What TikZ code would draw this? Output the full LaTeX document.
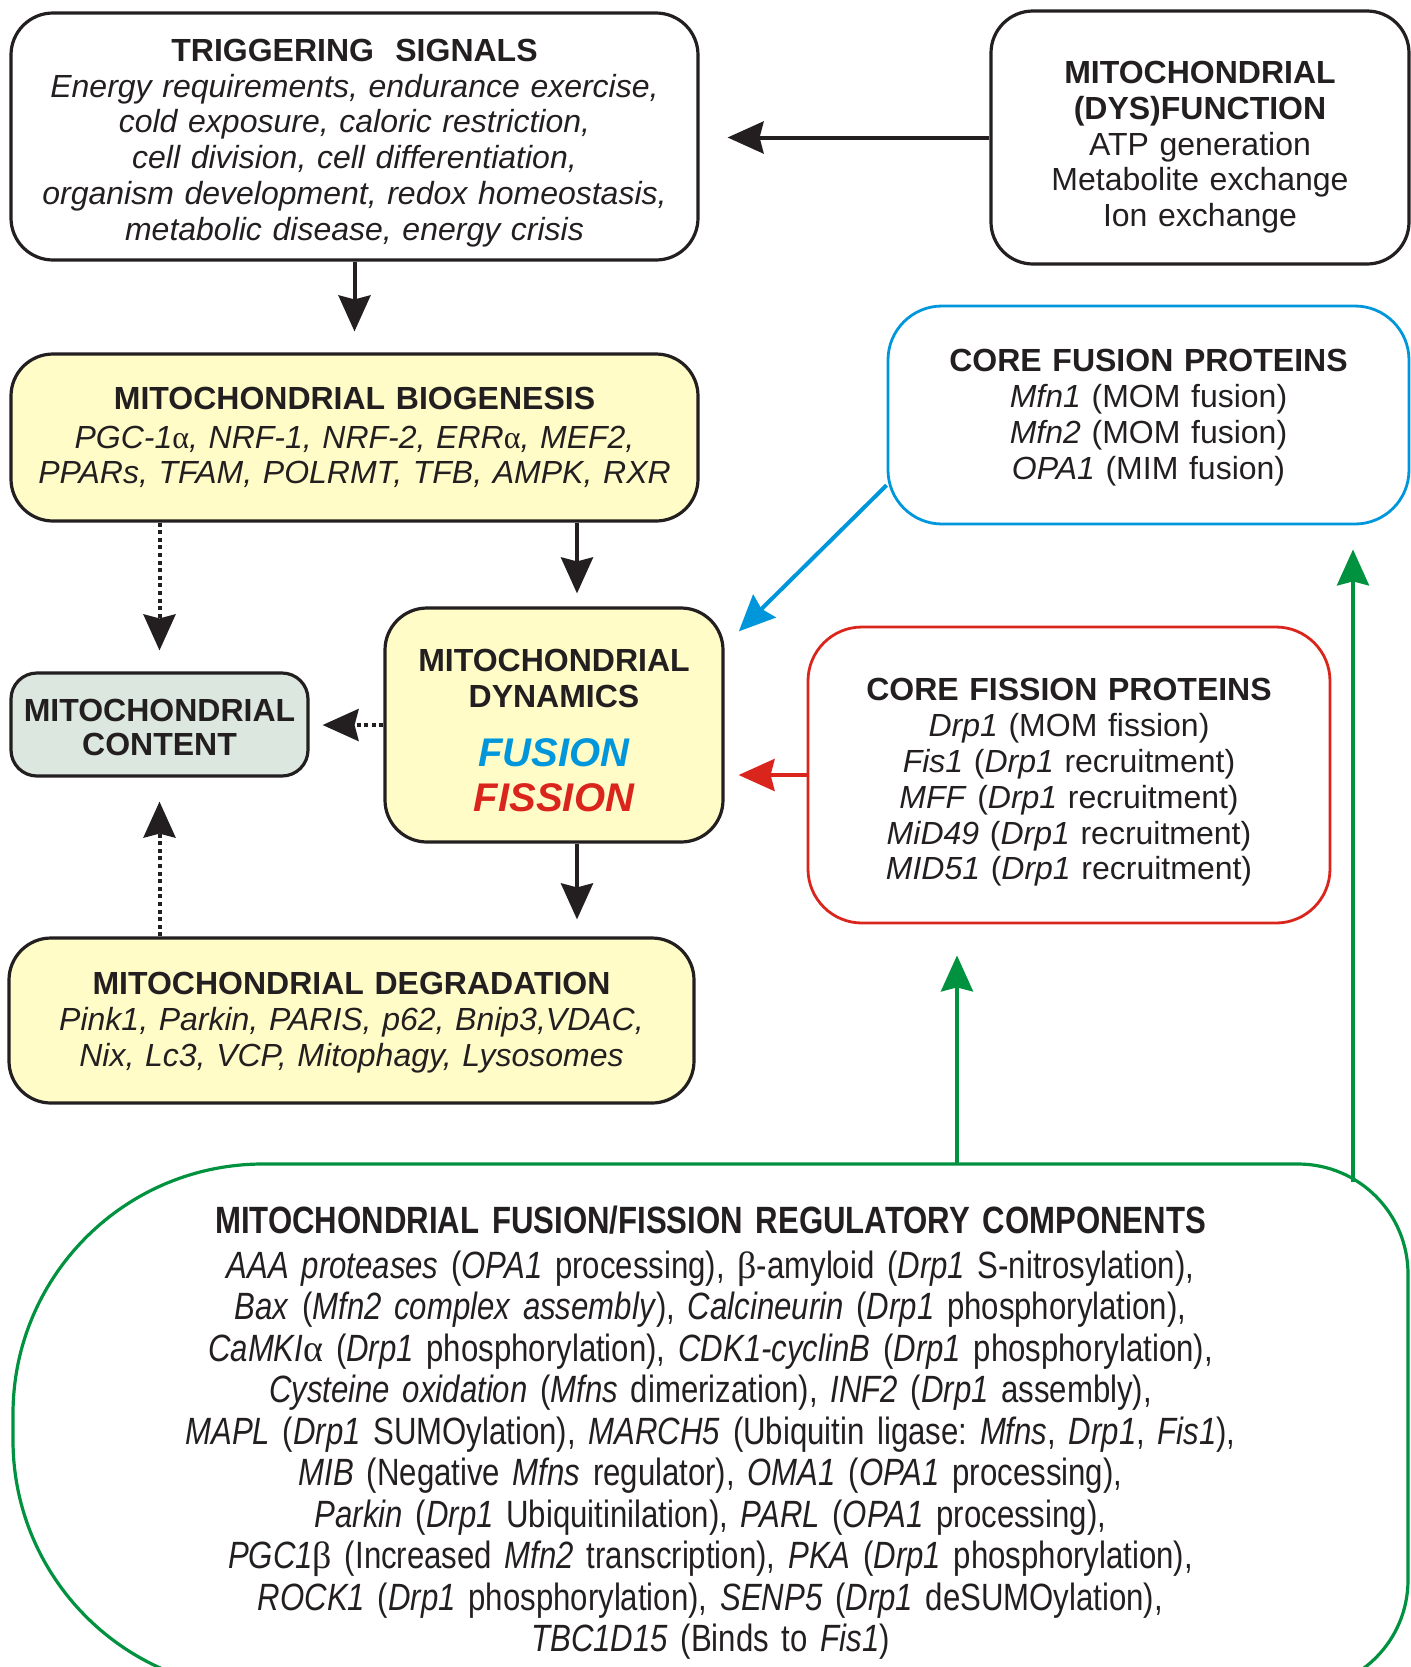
\documentclass[tikz,border=0pt]{standalone}
\usepackage{fontspec}
\setmainfont{Liberation Sans}
\newfontfamily\grkfont{Liberation Serif}
\newfontfamily\regfont[FakeStretch=0.82]{Liberation Sans}
\usetikzlibrary{arrows.meta}
\frenchspacing
\definecolor{boxyellow}{RGB}{255,252,200}
\definecolor{boxgrey}{RGB}{220,232,223}
\definecolor{fusblue}{RGB}{0,150,219}
\definecolor{fisred}{RGB}{218,37,29}
\definecolor{reggreen}{RGB}{0,146,63}
\definecolor{inkblack}{RGB}{35,31,32}
\newcommand{\gr}[1]{{\grkfont\upshape #1}}
\newcommand{\toprule}[1]{\rule{0pt}{#1}}

\begin{document}
\begin{tikzpicture}[x=0.5pt, y=-0.5pt,
  every node/.style = {align=center, text=inkblack,
    font=\fontsize{16}{17.9}\selectfont},
  blackbox/.style = {shape=rectangle, rounded corners=21pt,
    draw=inkblack, line width=1.6pt},
  yellowbox/.style = {blackbox, fill=boxyellow},
  fusbox/.style = {shape=rectangle, rounded corners=27pt,
    draw=fusblue, line width=1.4pt},
  fisbox/.style = {fusbox, draw=fisred},
  arr/.style = {line width=2pt, color=inkblack,
    -{Stealth[length=18pt,width=16pt,inset=2pt]}},
  dotarr/.style = {arr, dash pattern=on 2pt off 1.8pt},
  fusarr/.style = {arr, color=fusblue},
  fisarr/.style = {arr, color=fisred},
  regarr/.style = {arr, color=reggreen}]
  \useasboundingbox (0,0) rectangle (1411,1667);

  \node[blackbox, text width=330pt, minimum width=343.5pt, minimum height=123.5pt] (trig) at (354.5,136.5)
    {\toprule{17.7pt}{\bfseries TRIGGERING\ \ SIGNALS}\\\itshape Energy requirements, endurance exercise,\\
     cold exposure, caloric restriction,\\cell division, cell differentiation,\\
     organism development, redox homeostasis,\\metabolic disease, energy crisis};
  \node[blackbox, text width=200pt, minimum width=209pt, minimum height=126.5pt] (dys) at (1200,137.5)
    {\toprule{20.9pt}{\bfseries MITOCHONDRIAL\\(DYS)FUNCTION}\\ATP generation\\Metabolite exchange\\Ion exchange};
  \node[yellowbox, text width=330pt, minimum width=343.5pt, minimum height=83.5pt] (bio) at (354.5,437.5)
    {{\bfseries MITOCHONDRIAL BIOGENESIS}\\[1.5pt]\itshape PGC-1\gr{α}, NRF-1, NRF-2, ERR\gr{α}, MEF2,\\
     PPARs, TFAM, POLRMT, TFB, AMPK, RXR};
  \node[fusbox, text width=250pt, minimum width=260.5pt, minimum height=109pt] (fus) at (1148.5,415)
    {\toprule{14pt}{\bfseries CORE FUSION PROTEINS}\\\textit{Mfn1} (MOM fusion)\\\textit{Mfn2} (MOM fusion)\\
     \textit{OPA1} (MIM fusion)};
  \node[yellowbox, text width=160pt, minimum width=169pt, minimum height=117pt] (dyn) at (554,725)
    {\toprule{16.6pt}{\bfseries MITOCHONDRIAL\\DYNAMICS}\\[7.3pt]{\fontsize{20}{22}\selectfont\bfseries\itshape
     \textcolor{fusblue}{FUSION}\\[4.6pt]\textcolor{fisred}{FISSION}}};
  \node[blackbox, fill=boxgrey, rounded corners=13pt, text width=140pt, minimum width=148.5pt,
    minimum height=51.5pt, font=\fontsize{16}{17}\selectfont\bfseries] (cont) at (159.5,724.5)
    {\toprule{14.5pt}MITOCHONDRIAL\\CONTENT};
  \node[fisbox, text width=250pt, minimum width=261pt, minimum height=148pt] (fis) at (1069,775)
    {\toprule{18.7pt}{\bfseries CORE FISSION PROTEINS}\\\textit{Drp1} (MOM fission)\\\textit{Fis1} (\textit{Drp1} recruitment)\\
     \textit{MFF} (\textit{Drp1} recruitment)\\\textit{MiD49} (\textit{Drp1} recruitment)\\
     \textit{MID51} (\textit{Drp1} recruitment)};
  \node[yellowbox, text width=330pt, minimum width=342.5pt, minimum height=82.5pt] (deg) at (351.5,1020.5)
    {\toprule{13.3pt}{\bfseries MITOCHONDRIAL DEGRADATION}\\\itshape Pink1, Parkin, PARIS, p62, Bnip3,VDAC,\\
     Nix, Lc3, VCP, Mitophagy, Lysosomes};
  \node[text width=680pt, font=\regfont\fontsize{19}{20.75}\selectfont] (reg) at (710.5,1433)
    {{\bfseries MITOCHONDRIAL FUSION/FISSION REGULATORY COMPONENTS}\\[1.6pt]
     \textit{AAA proteases} (\textit{OPA1} processing), \gr{β}-amyloid (\textit{Drp1} S-nitrosylation),\\
     \textit{Bax} (\textit{Mfn2 complex assembly}), \textit{Calcineurin} (\textit{Drp1} phosphorylation),\\
     \textit{CaMKI}\gr{α} (\textit{Drp1} phosphorylation), \textit{CDK1-cyclinB} (\textit{Drp1} phosphorylation),\\
     \textit{Cysteine oxidation} (\textit{Mfns} dimerization), \textit{INF2} (\textit{Drp1} assembly),\\
     \textit{MAPL} (\textit{Drp1} SUMOylation), \textit{MARCH5} (Ubiquitin ligase: \textit{Mfns}, \textit{Drp1}, \textit{Fis1}),\\
     \textit{MIB} (Negative \textit{Mfns} regulator), \textit{OMA1} (\textit{OPA1} processing),\\
     \textit{Parkin} (\textit{Drp1} Ubiquitinilation), \textit{PARL} (\textit{OPA1} processing),\\
     \textit{PGC1}\gr{β} (Increased \textit{Mfn2} transcription), \textit{PKA} (\textit{Drp1} phosphorylation),\\
     \textit{ROCK1} (\textit{Drp1} phosphorylation), \textit{SENP5} (\textit{Drp1} deSUMOylation),\\
     \textit{TBC1D15} (Binds to \textit{Fis1})};
  \draw[reggreen, line width=1.6pt] (700,1690) [rounded corners=125pt] -- (13,1690) -- (13,1164)
    [rounded corners=55pt] -- (1408,1164) -- (1408,1690) [rounded corners=125pt] -- cycle;
  \coordinate (regtop1) at (957,1164);
  \coordinate (regtop2) at (1353,1182);

  \draw[arr, shorten >=14pt] (dys.west) -- (dys.west -| trig.east);
  \draw[arr, shorten >=10.5pt] (trig.south) -- (bio.north);
  \draw[arr, shorten >=6.5pt] ([xshift=11.5pt]dyn.north |- bio.south) -- ([xshift=11.5pt]dyn.north);
  \draw[dotarr, shorten >=10.5pt] (cont.north |- bio.south) -- (cont.north);
  \draw[dotarr, shorten >=6.5pt] (dyn.west) -- (dyn.west -| cont.east);
  \draw[arr, shorten >=8.5pt] ([xshift=11.5pt]dyn.south) -- ([xshift=11.5pt]dyn.south |- deg.north);
  \draw[dotarr, shorten >=12pt] (cont.south |- deg.north) -- (cont.south);
  \draw[fusarr, shorten >=10pt] (fus.195) -- (dyn.25);
  \draw[fisarr, shorten >=7pt] (fis.west) -- (fis.west -| dyn.east);
  \draw[regarr, shorten >=15.5pt] (regtop1) -- (regtop1 |- fis.south);
  \draw[regarr, shorten >=12pt] (regtop2) -- (regtop2 |- fus.south);
\end{tikzpicture}
\end{document}
